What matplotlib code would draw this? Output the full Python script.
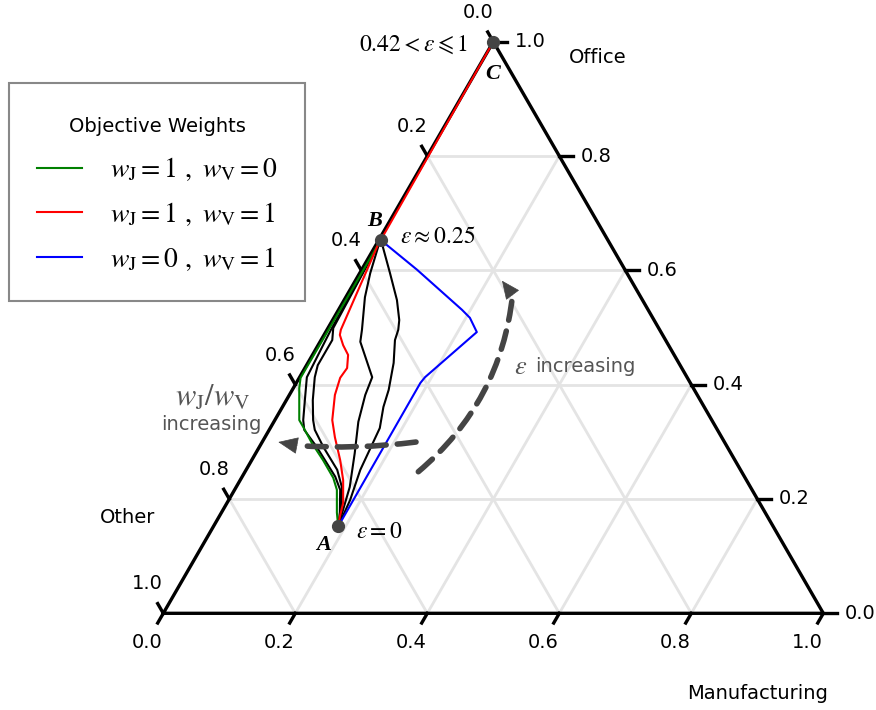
import numpy as np
import matplotlib.pyplot as plt
from matplotlib.patches import FancyArrowPatch

plt.rcParams['font.family'] = 'DejaVu Sans'
plt.rcParams['mathtext.fontset'] = 'stix'

# compositions: Manufacturing share (m) and Office share (o),
# Other = 1 - m - o.  Every path runs from A (eps = 0) to B (eps ~ 0.25)
green_m = [0.189, 0.175, 0.155, 0.139, 0.108, 0.076, 0.049, 0.037, 0.009, 0.002, 0.003]
green_o = [0.152, 0.176, 0.216, 0.237, 0.268, 0.298, 0.326, 0.338, 0.394, 0.412, 0.653]

# red continues along the edge up to C
red_m = [0.189, 0.183, 0.176, 0.156, 0.134, 0.106, 0.087, 0.069, 0.062, 0.064,
         0.054, 0.038, 0.024, 0.021, 0.003, 0.003, 0.000]
red_o = [0.152, 0.169, 0.193, 0.233, 0.268, 0.308, 0.338, 0.382, 0.412, 0.429,
         0.452, 0.469, 0.487, 0.496, 0.644, 0.653, 1.000]

blue_m = [0.189, 0.188, 0.190, 0.229, 0.206, 0.187, 0.084, 0.017, 0.003]
blue_o = [0.152, 0.403, 0.413, 0.492, 0.517, 0.531, 0.601, 0.644, 0.653]

black1_m = [0.189, 0.179, 0.160, 0.141, 0.087, 0.053, 0.043, 0.028, 0.011, 0.007, 0.006, 0.003]
black1_o = [0.152, 0.177, 0.216, 0.239, 0.291, 0.321, 0.338, 0.373, 0.413, 0.478, 0.496, 0.653]

black2_m = [0.189, 0.180, 0.160, 0.138, 0.097, 0.069, 0.058, 0.040, 0.023, 0.017, 0.017, 0.008, 0.003]
black2_o = [0.152, 0.181, 0.221, 0.251, 0.291, 0.321, 0.338, 0.373, 0.413, 0.434, 0.478, 0.499, 0.653]

black3_m = [0.189, 0.172, 0.150, 0.128, 0.115, 0.110, 0.061, 0.053, 0.029, 0.016, 0.005, 0.003]
black3_o = [0.152, 0.221, 0.280, 0.335, 0.382, 0.413, 0.475, 0.496, 0.553, 0.595, 0.641, 0.653]

black4_m = [0.189, 0.184, 0.173, 0.166, 0.153, 0.146, 0.130, 0.112, 0.108, 0.101, 0.080, 0.046, 0.007, 0.003]
black4_o = [0.152, 0.198, 0.251, 0.324, 0.361, 0.391, 0.438, 0.478, 0.496, 0.513, 0.548, 0.595, 0.648, 0.653]

# marked solutions A, B, C
point_m = [0.189, 0.003, 0.000]
point_o = [0.152, 0.653, 1.000]

tick_values = [0.0, 0.2, 0.4, 0.6, 0.8, 1.0]
legend_labels = [r'$w_{\mathrm{J}} = 1\ ,\ w_{\mathrm{V}} = 0$',
                 r'$w_{\mathrm{J}} = 1\ ,\ w_{\mathrm{V}} = 1$',
                 r'$w_{\mathrm{J}} = 0\ ,\ w_{\mathrm{V}} = 1$']

H = np.sqrt(3) / 2


def tern(m, o):
    """(Manufacturing, Office) -> cartesian point in the unit triangle"""
    m = np.asarray(m, dtype=float)
    o = np.asarray(o, dtype=float)
    return m + o / 2, o * H


fig = plt.figure(figsize=(8.76, 7.10), dpi=100)
ax = fig.add_axes([0, 0, 1, 1])
ax.set_xlim(-0.2474, 1.0798)
ax.set_ylim(-0.1465, 0.9292)
ax.axis('off')

# grid
grid_kw = dict(color='#e4e4e4', lw=2, zorder=1)
for v in tick_values[1:-1]:
    ax.plot(*tern([0, 1 - v], [v, v]), **grid_kw)
    ax.plot(*tern([v, v], [0, 1 - v]), **grid_kw)
    ax.plot(*tern([1 - v, 0], [0, 1 - v]), **grid_kw)

# triangle + ticks
ax.plot(*tern([0, 1, 0, 0], [0, 0, 1, 0]), color='black', lw=2.4, zorder=2)
L = 0.017
for v in tick_values:
    x, y = tern(v, 0)
    ax.plot([x, x - L / 2], [y, y - L * H], color='black', lw=2.4, zorder=2)
    ax.text(x - 0.025, -0.0435, f'{v:.1f}', ha='center', va='center', fontsize=14)
    x, y = tern(1 - v, v)
    ax.plot([x, x + 0.02], [y, y], color='black', lw=2.4, zorder=2)
    ax.text(x + 0.032, y, f'{v:.1f}', ha='left', va='center', fontsize=14)
    x, y = tern(0, 1 - v)
    ax.plot([x, x - L / 2], [y, y + L * H], color='black', lw=2.4, zorder=2)
    ax.text(x - 0.0236, y + 0.0447, f'{v:.1f}', ha='center', va='center', fontsize=14)

ax.text(0.6586, 0.8414, 'Office', ha='center', va='center', fontsize=14)
ax.text(-0.0535, 0.1459, 'Other', ha='center', va='center', fontsize=14)
ax.text(0.9003, -0.1208, 'Manufacturing', ha='center', va='center', fontsize=14)

# paths
for bm, bo in [(black1_m, black1_o), (black2_m, black2_o), (black3_m, black3_o), (black4_m, black4_o)]:
    ax.plot(*tern(bm, bo), color='black', lw=1.5, zorder=3)
hg, = ax.plot(*tern(green_m, green_o), color='green', lw=1.5, zorder=3, label=legend_labels[0])
hb, = ax.plot(*tern(blue_m, blue_o), color='blue', lw=1.5, zorder=3, label=legend_labels[2])
hr, = ax.plot(*tern(red_m, red_o), color='red', lw=1.5, zorder=3, label=legend_labels[1])

px, py = tern(point_m, point_o)
ax.plot(px, py, 'o', color='#444444', ms=8.5, zorder=6)

pt_font = dict(family='Liberation Serif', weight='bold', style='italic', fontsize=16)
ax.annotate('A', (px[0], py[0]), xytext=(-10.4, -13.3), textcoords='offset points',
            ha='center', va='center', **pt_font)
ax.annotate('B', (px[1], py[1]), xytext=(-4.7, 13.7), textcoords='offset points',
            ha='center', va='center', **pt_font)
ax.annotate('C', (px[2], py[2]), xytext=(-0.7, -23.4), textcoords='offset points',
            ha='center', va='center', **pt_font)
ax.annotate(r'$\varepsilon = 0$', (px[0], py[0]), xytext=(13, -3.2), textcoords='offset points',
            ha='left', va='center', fontsize=17)
ax.annotate(r'$\varepsilon \approx 0.25$', (px[1], py[1]), xytext=(14, 2.9), textcoords='offset points',
            ha='left', va='center', fontsize=17)
ax.annotate(r'$0.42 < \varepsilon \leqslant 1$', (px[2], py[2]), xytext=(-18, -1.8),
            textcoords='offset points', ha='right', va='center', fontsize=17)

# trend arrows
arrow_col = '#444444'
shaft_kw = dict(arrowstyle='-', color=arrow_col, lw=4, linestyle=(0, (3.4, 2.0)),
                shrinkA=0, shrinkB=0, zorder=5)
ax.add_patch(FancyArrowPatch((0.3864, 0.2145), (0.5292, 0.4823),
                             connectionstyle='arc3,rad=0.2', **shaft_kw))
ax.add_patch(FancyArrowPatch((0.5292, 0.4823), (0.5132, 0.5039),
                             arrowstyle='-|>,head_length=0.6,head_width=0.27', mutation_scale=20,
                             color=arrow_col, lw=0.5, shrinkA=0, shrinkB=0, zorder=5))
ax.add_patch(FancyArrowPatch((0.3829, 0.2595), (0.2026, 0.2542),
                             connectionstyle='arc3,rad=-0.05', **shaft_kw))
ax.add_patch(FancyArrowPatch((0.2026, 0.2542), (0.1742, 0.2595),
                             arrowstyle='-|>,head_length=0.65,head_width=0.28', mutation_scale=20,
                             color=arrow_col, lw=0.5, shrinkA=0, shrinkB=0, zorder=5))

grey_txt = '#555555'
ax.text(0.5511, 0.3732, r'$\varepsilon$', color=grey_txt, fontsize=19, ha='right', va='center')
ax.text(0.5632, 0.3732, 'increasing', color=grey_txt, fontsize=14, ha='left', va='center')
ax.text(0.0753, 0.3277, r'$w_{\mathrm{J}}/w_{\mathrm{V}}$', color=grey_txt, fontsize=22,
        ha='center', va='center')
ax.text(0.0733, 0.2861, 'increasing', color=grey_txt, fontsize=14, ha='center', va='center')

leg = ax.legend(handles=[hg, hr, hb], title='Objective Weights', loc='upper left',
                bbox_to_anchor=(9 / 876, 1 - 83 / 710), bbox_transform=fig.transFigure,
                borderaxespad=0, fontsize=20, title_fontsize=14, fancybox=False,
                edgecolor='#888888', framealpha=1, borderpad=1.0, handlelength=1.62,
                handletextpad=1.0, labelspacing=0.6)
leg.get_frame().set_linewidth(1.5)
# a bit more room between the title and the entries, title sits lower
leg._legend_box.sep += 6.5
leg.get_title().set_y(-6)

fig.savefig('out.png', dpi=100)
